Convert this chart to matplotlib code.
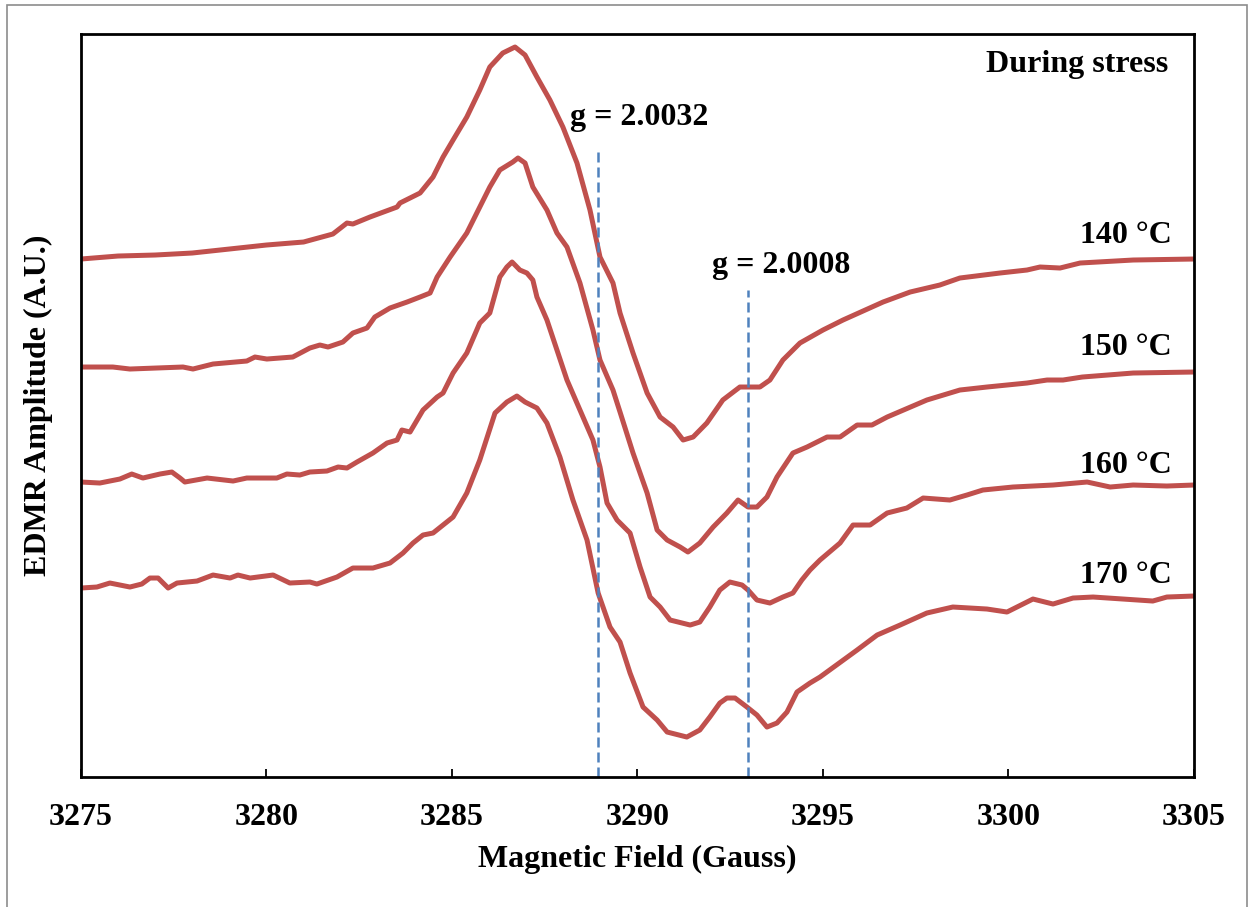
import matplotlib.pyplot as plt
import matplotlib.patches as patches

# ── DATA ─────────────────────────────────────────────────────────────────────
field_140 = [3275.00, 3276.00, 3277.00, 3278.00, 3279.00, 3280.00, 3281.00, 3281.79,
             3282.17, 3282.33, 3282.79, 3283.52, 3283.60, 3284.14, 3284.49, 3284.76,
             3285.03, 3285.40, 3285.75, 3286.02, 3286.37, 3286.70, 3286.97, 3287.29,
             3287.64, 3287.99, 3288.37, 3288.72, 3288.99, 3289.34, 3289.53, 3289.88,
             3290.26, 3290.61, 3290.96, 3291.23, 3291.50, 3291.87, 3292.30, 3292.76,
             3293.30, 3293.57, 3293.92, 3294.38, 3295.00, 3295.54, 3296.62, 3297.35,
             3298.15, 3298.69, 3299.77, 3300.50, 3300.85, 3301.39, 3301.93, 3303.36,
             3305.00]
amp_140 = [518, 521, 522, 524, 528, 532, 535, 543, 554, 553, 560, 570, 574, 584, 600, 620,
           637, 660, 687, 710, 724, 730, 722, 700, 677, 650, 614, 567, 520, 494, 464, 424,
           384, 360, 350, 337, 340, 354, 377, 390, 390, 397, 417, 434, 447, 457, 475, 485,
           492, 499, 504, 507, 510, 509, 514, 517, 518]

field_150 = [3275.00, 3275.86, 3276.32, 3277.75, 3278.02, 3278.56, 3279.47, 3279.69,
             3280.01, 3280.36, 3280.71, 3281.17, 3281.44, 3281.66, 3282.06, 3282.33,
             3282.71, 3282.92, 3283.33, 3283.79, 3284.14, 3284.41, 3284.60, 3284.95,
             3285.40, 3285.75, 3286.02, 3286.29, 3286.64, 3286.78, 3286.97, 3287.18,
             3287.56, 3287.83, 3288.10, 3288.45, 3288.80, 3288.99, 3289.34, 3289.53,
             3289.88, 3290.26, 3290.53, 3290.80, 3291.15, 3291.36, 3291.68, 3292.04,
             3292.41, 3292.71, 3292.98, 3293.22, 3293.49, 3293.76, 3294.19, 3294.57,
             3295.11, 3295.46, 3295.92, 3296.32, 3296.73, 3297.80, 3298.69, 3299.42,
             3300.50, 3301.04, 3301.47, 3301.99, 3303.36, 3305.00]
amp_150 = [410, 410, 408, 410, 408, 413, 416, 420, 418, 419, 420, 429, 432, 430, 435, 444,
           449, 460, 469, 475, 480, 484, 500, 520, 544, 570, 590, 607, 615, 619, 614, 590,
           567, 544, 530, 494, 447, 417, 387, 365, 324, 284, 247, 237, 230, 225, 234, 250,
           264, 277, 270, 270, 280, 300, 324, 330, 340, 340, 352, 352, 360, 377, 387, 390,
           394, 397, 397, 400, 404, 405]

field_160 = [3275.00, 3275.51, 3276.05, 3276.37, 3276.67, 3277.13, 3277.45, 3277.67,
             3277.80, 3278.40, 3279.10, 3279.47, 3280.28, 3280.55, 3280.90, 3281.17,
             3281.63, 3281.93, 3282.17, 3282.44, 3282.87, 3283.25, 3283.52, 3283.65,
             3283.87, 3284.22, 3284.60, 3284.76, 3285.03, 3285.40, 3285.75, 3286.02,
             3286.29, 3286.48, 3286.62, 3286.83, 3287.02, 3287.18, 3287.29, 3287.56,
             3287.83, 3288.10, 3288.45, 3288.80, 3288.99, 3289.18, 3289.45, 3289.80,
             3290.07, 3290.34, 3290.61, 3290.88, 3291.42, 3291.68, 3291.95, 3292.22,
             3292.49, 3292.82, 3292.98, 3293.22, 3293.57, 3293.92, 3294.19, 3294.43,
             3294.65, 3294.92, 3295.46, 3295.81, 3296.27, 3296.73, 3297.26, 3297.70,
             3298.42, 3298.88, 3299.31, 3300.12, 3301.20, 3302.12, 3302.74, 3303.36,
             3304.27, 3305.00]
amp_160 = [295, 294, 298, 303, 299, 303, 305, 299, 295, 299, 296, 299, 299, 303, 302, 305,
           306, 310, 309, 315, 324, 334, 337, 347, 345, 367, 380, 384, 404, 424, 454, 464,
           500, 510, 515, 507, 504, 497, 480, 457, 427, 397, 367, 337, 310, 274, 257, 244,
           210, 180, 170, 157, 152, 155, 170, 187, 195, 192, 187, 177, 174, 180, 184, 197,
           207, 217, 234, 252, 252, 264, 269, 279, 277, 282, 287, 290, 292, 295, 290, 292,
           291, 292]

field_170 = [3275.00, 3275.43, 3275.78, 3276.32, 3276.64, 3276.86, 3277.08, 3277.35,
             3277.59, 3278.13, 3278.56, 3279.02, 3279.23, 3279.56, 3280.18, 3280.63,
             3281.17, 3281.36, 3281.90, 3282.33, 3282.87, 3283.33, 3283.68, 3283.95,
             3284.22, 3284.49, 3285.03, 3285.40, 3285.75, 3286.16, 3286.48, 3286.75,
             3286.97, 3287.29, 3287.56, 3287.91, 3288.26, 3288.64, 3288.94, 3289.26,
             3289.53, 3289.80, 3290.15, 3290.53, 3290.80, 3291.33, 3291.68, 3291.95,
             3292.22, 3292.41, 3292.63, 3292.95, 3293.22, 3293.49, 3293.76, 3294.03,
             3294.30, 3294.65, 3294.92, 3295.92, 3296.46, 3297.08, 3297.80, 3298.50,
             3299.42, 3299.96, 3300.66, 3301.20, 3301.74, 3302.28, 3303.89, 3304.27,
             3305.00]
amp_170 = [189, 190, 194, 190, 193, 199, 199, 189, 194, 196, 202, 199, 202, 199, 202, 194,
           195, 193, 200, 209, 209, 214, 224, 234, 242, 244, 260, 284, 317, 364, 375, 381,
           375, 369, 354, 320, 277, 237, 184, 150, 135, 104, 70, 57, 45, 40, 47, 60,
           74, 79, 79, 70, 62, 50, 54, 65, 85, 94, 100, 127, 142, 152, 164, 170,
           168, 165, 178, 173, 179, 180, 176, 180, 181]

temps = ['140 °C', '150 °C', '160 °C', '170 °C']
label_amp = [542, 430, 312, 202]

g_values = ['g = 2.0032', 'g = 2.0008']
g_field = [3288.93, 3292.98]
g_top = [627, 487]
g_text_pos = [(3290.04, 660), (3293.87, 512)]

# ── PLOT ─────────────────────────────────────────────────────────────────────
plt.rcParams['font.family'] = ['Liberation Serif', 'DejaVu Serif']
plt.rcParams['font.weight'] = 'bold'
fs = 23

fig = plt.figure(figsize=(12.53, 9.07), dpi=100)
ax = fig.add_axes([0.0646, 0.1433, 0.8883, 0.8192])

red = '#C0504D'
for f, a in [(field_140, amp_140), (field_150, amp_150),
             (field_160, amp_160), (field_170, amp_170)]:
    ax.plot(f, a, color=red, lw=3.6, solid_joinstyle='round', solid_capstyle='butt')

for gx, gt in zip(g_field, g_top):
    ax.plot([gx, gx], [0, gt], color='#4F81BD', lw=1.8, ls=(0, (4, 2)))

for txt, (tx, ty) in zip(g_values, g_text_pos):
    ax.text(tx, ty, txt, ha='center', va='center', fontsize=fs, fontweight='bold')

for t, ya in zip(temps, label_amp):
    ax.text(3304.41, ya, t, ha='right', va='center', fontsize=fs, fontweight='bold')

ax.text(3304.30, 713, 'During stress', ha='right', va='center', fontsize=fs, fontweight='bold')

ax.set_xlim(3275, 3305)
ax.set_ylim(0, 743)
ax.set_xticks(range(3275, 3306, 5))
ax.set_yticks([])
ax.tick_params(axis='x', direction='in', length=6, width=1.3, labelsize=fs, pad=19)
for lbl in ax.get_xticklabels():
    lbl.set_fontweight('bold')
for s in ax.spines.values():
    s.set_linewidth(2.0)

ax.set_xlabel('Magnetic Field (Gauss)', fontsize=fs, fontweight='bold', labelpad=9)
ax.set_ylabel('EDMR Amplitude (A.U.)', fontsize=fs, fontweight='bold', labelpad=20)

# thin gray frame around the chart area
fig.patches.append(patches.Rectangle((7 / 1253, -0.01), 1240 / 1253, 1 - 5 / 907 + 0.01,
                                     transform=fig.transFigure, fill=False,
                                     edgecolor='#8c8c8c', lw=1.2))

plt.savefig('out.png', dpi=100)
